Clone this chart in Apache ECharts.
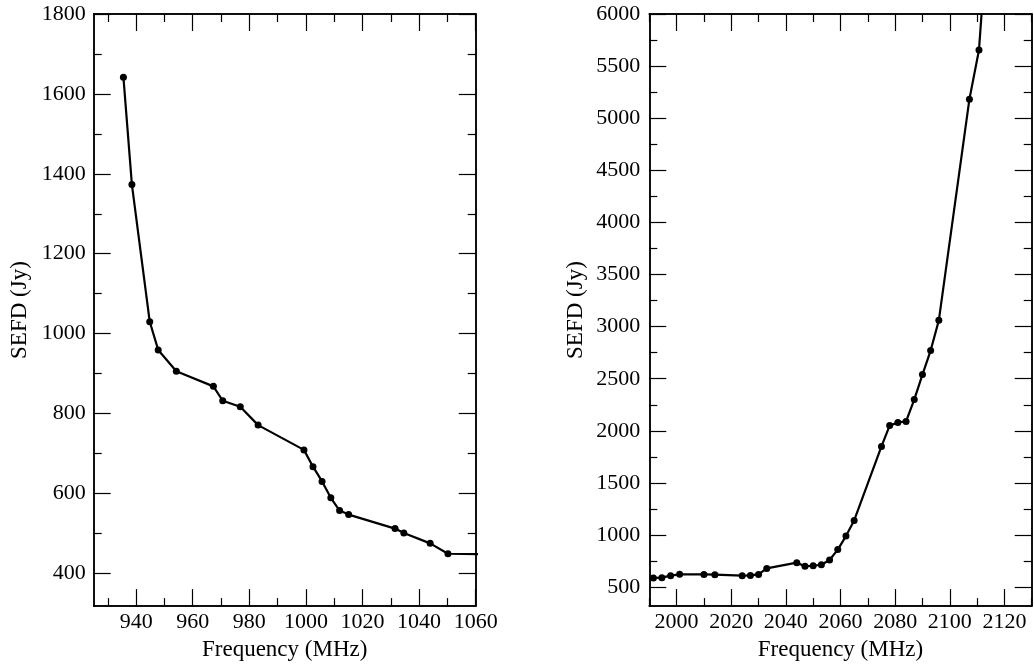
<!DOCTYPE html>
<html>
<head>
<meta charset="utf-8">
<script src="https://cdn.jsdelivr.net/npm/echarts@6/dist/echarts.min.js"></script>
<style>
html, body { margin: 0; padding: 0; background: #fff; }
#main { width: 1034px; height: 666px; }
</style>
</head>
<body>
<div id="main"></div>
<script>
// left panel: L band
var leftFreq = [935.5, 938.5, 944.8, 947.8, 954.2, 967.3, 970.6, 976.8, 983.1, 999.3, 1002.5, 1005.7, 1008.8, 1011.9, 1015.1, 1031.5, 1034.6, 1043.9, 1050.2, 1070];
var leftSefd = [1642, 1373, 1030, 959, 906, 868, 832, 817, 771, 709, 667, 630, 589, 557, 547, 512, 501, 475, 449, 447];
// right panel: S band
var rightFreq = [1991.5, 1994.6, 1997.8, 2001.1, 2010, 2014, 2024, 2027, 2030, 2033, 2044, 2047, 2050, 2053, 2056, 2059, 2062, 2065, 2075, 2078, 2081, 2084, 2087, 2090, 2093, 2096, 2107.2, 2110.7, 2113];
var rightSefd = [588, 591, 610, 623, 622, 620, 610, 612, 622, 680, 735, 700, 705, 715, 760, 860, 990, 1140, 1850, 2050, 2080, 2090, 2300, 2540, 2770, 3060, 5183, 5655, 6500];

// tick values
var leftXMajor = [940, 960, 980, 1000, 1020, 1040, 1060];
var leftXMinor = [930, 950, 970, 990, 1010, 1030, 1050];
var leftYMajor = [400, 600, 800, 1000, 1200, 1400, 1600, 1800];
var leftYMinor = [500, 700, 900, 1100, 1300, 1500, 1700];
var rightXMajor = [2000, 2020, 2040, 2060, 2080, 2100, 2120];
var rightXMinor = [1990, 2010, 2030, 2050, 2070, 2090, 2110, 2130];
var rightYMajor = [500, 1000, 1500, 2000, 2500, 3000, 3500, 4000, 4500, 5000, 5500, 6000];
var rightYMinor = [750, 1250, 1750, 2250, 2750, 3250, 3750, 4250, 4750, 5250, 5750];

var FONT = 'Liberation Serif';

function makeAxis(grid, pos, min, max, ticks, len, showLabel, margin, name, nameGap) {
	var ax = {
		type: 'value',
		gridIndex: grid,
		position: pos,
		min: min,
		max: max,
		axisLine: { show: true, onZero: false, lineStyle: { color: '#000', width: 1.5 } },
		axisTick: { show: true, inside: true, length: len, customValues: ticks, lineStyle: { color: '#000', width: 1.2 } },
		axisLabel: {
			show: showLabel,
			customValues: ticks,
			margin: margin,
			color: '#000',
			fontFamily: FONT,
			fontSize: 22,
			formatter: function (v) { return String(v); }
		},
		splitLine: { show: false }
	};
	if (name) {
		ax.name = name;
		ax.nameLocation = 'middle';
		ax.nameGap = nameGap;
		ax.nameTextStyle = { color: '#000', fontFamily: FONT, fontSize: 23 };
	}
	return ax;
}

var xAxes = [
	makeAxis(0, 'bottom', 925, 1060, leftXMajor, 17, true, 5, 'Frequency (MHz)', 30),
	makeAxis(0, 'bottom', 925, 1060, leftXMinor, 8, false, 5),
	makeAxis(0, 'top', 925, 1060, leftXMajor, 17, false, 5),
	makeAxis(0, 'top', 925, 1060, leftXMinor, 8, false, 5),
	makeAxis(1, 'bottom', 1990, 2130, rightXMajor, 17, true, 5, 'Frequency (MHz)', 30),
	makeAxis(1, 'bottom', 1990, 2130, rightXMinor, 8, false, 5),
	makeAxis(1, 'top', 1990, 2130, rightXMajor, 17, false, 5),
	makeAxis(1, 'top', 1990, 2130, rightXMinor, 8, false, 5)
];
var yAxes = [
	makeAxis(0, 'left', 318, 1800, leftYMajor, 17, true, 8, 'SEFD (Jy)', 62),
	makeAxis(0, 'left', 318, 1800, leftYMinor, 8, false, 8),
	makeAxis(0, 'right', 318, 1800, leftYMajor, 17, false, 8),
	makeAxis(0, 'right', 318, 1800, leftYMinor, 8, false, 8),
	makeAxis(1, 'left', 318, 6000, rightYMajor, 17, true, 9, 'SEFD (Jy)', 62),
	makeAxis(1, 'left', 318, 6000, rightYMinor, 8, false, 9),
	makeAxis(1, 'right', 318, 6000, rightYMajor, 17, false, 9),
	makeAxis(1, 'right', 318, 6000, rightYMinor, 8, false, 9)
];

function pairs(xs, ys) {
	var out = [];
	for (var i = 0; i < xs.length; i++) {
		out.push([xs[i], ys[i]]);
	}
	return out;
}

var lineStyle = { color: '#000', width: 2.2 };

var option = {
	backgroundColor: '#fff',
	animation: false,
	grid: [
		{ left: 93.7, top: 14, right: 558.3, bottom: 58.3, containLabel: false },
		{ left: 649.3, top: 14, right: 2.3, bottom: 58.7, containLabel: false }
	],
	xAxis: xAxes,
	yAxis: yAxes,
	series: [{
		type: 'line',
		xAxisIndex: 0,
		yAxisIndex: 0,
		data: pairs(leftFreq, leftSefd),
		symbol: 'circle',
		symbolSize: 7,
		showAllSymbol: true,
		clip: true,
		lineStyle: lineStyle,
		itemStyle: { color: '#000' }
	}, {
		type: 'line',
		xAxisIndex: 4,
		yAxisIndex: 4,
		data: pairs(rightFreq, rightSefd),
		symbol: 'circle',
		symbolSize: 7,
		showAllSymbol: true,
		clip: true,
		lineStyle: lineStyle,
		itemStyle: { color: '#000' }
	}]
};

var chart = echarts.init(document.getElementById('main'));
chart.setOption(option);
</script>
</body>
</html>
